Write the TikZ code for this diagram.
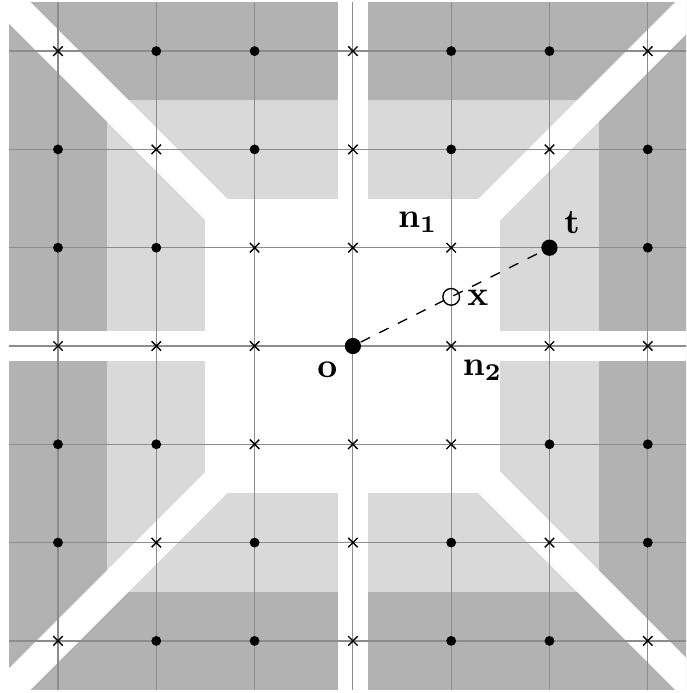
\documentclass[tikz,border=0pt]{standalone}
\usepackage{amsmath}
\usepackage{xcolor}
\usepackage{tikz}

\tikzset{
    gridline/.style={draw=black!45, line width=0.35pt},
    band/.style={draw=white, line width=0.31cm},
    bigdot/.style={circle, fill=black, inner sep=0pt, minimum size=0.165cm},
    opendot/.style={circle, draw=black, fill=none, inner sep=0pt, minimum size=0.17cm, line width=0.4pt},
    lbl/.style={inner sep=0pt}
}

\begin{document}
\begin{tikzpicture}
    \clip (-3.59,-3.53) rectangle (3.39,3.52);
    \fill[white] (-3.59,-3.53) rectangle (3.39,3.52);

    \fill[black!30] (-3.5,-3.5) rectangle (3.5,3.5);
    \fill[black!15] (-2.5,-2.5) rectangle (2.5,2.5);
    \fill[white] (-1.5,-1.5) rectangle (1.5,1.5);

    \draw[band] (-3.7,-3.7) -- (3.7,3.7); \draw[band] (-3.7,3.7) -- (3.7,-3.7);
    \draw[band] (-3.7,0) -- (3.7,0); \draw[band] (0,-3.7) -- (0,3.7);

    \draw[gridline, step=1] (-3.5,-3.5) grid (3.5,3.5);

    \foreach \p in {(-2,3),(-1,3),(1,3),(2,3),(-3,2),(-1,2),(1,2),(3,2),(-3,1),(-2,1),(3,1),
                    (-3,-1),(-2,-1),(2,-1),(3,-1),(-3,-2),(-1,-2),(1,-2),(3,-2),(-2,-3),(-1,-3),(1,-3),(2,-3)}
        \fill[black] \p circle (0.05);

    \foreach \p in {(-3,3),(0,3),(3,3),(-2,2),(0,2),(2,2),(-1,1),(0,1),(1,1),
                    (-3,0),(-2,0),(-1,0),(1,0),(2,0),(3,0),(-1,-1),(0,-1),(1,-1),
                    (-2,-2),(0,-2),(2,-2),(-3,-3),(0,-3),(3,-3)}
        \draw[black, line width=0.4pt] \p ++(-0.048,-0.048) -- ++(0.096,0.096) ++(-0.096,0) -- ++(0.096,-0.096);

    \node[bigdot] (o) at (0,0) {};
    \node[bigdot] (t) at (2,1) {};
    \node[opendot] (x) at (1,0.5) {};
    \draw[dashed, line width=0.4pt] (o) -- (t);

    \node[lbl] (lbln1) at (0.66,1.26) {$\mathbf{n_1}$};
    \node[lbl] (lbln2) at (1.32,-0.25) {$\mathbf{n_2}$};
    \node[lbl] (lblt) at (2.23,1.26) {$\mathbf{t}$};
    \node[lbl] (lblx) at (1.27,0.49) {$\mathbf{x}$};
    \node[lbl] (lblo) at (-0.26,-0.245) {$\mathbf{o}$};
\end{tikzpicture}
\end{document}
